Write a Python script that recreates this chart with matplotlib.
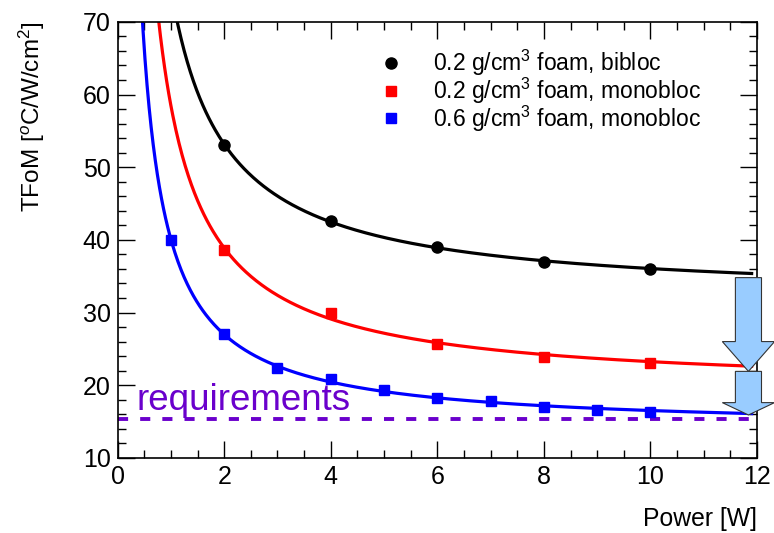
import numpy as np
import matplotlib.pyplot as plt
from matplotlib.ticker import MultipleLocator

plt.rcParams['font.family'] = ['Liberation Sans', 'DejaVu Sans']
plt.rcParams['mathtext.fontset'] = 'custom'
plt.rcParams['mathtext.rm'] = 'Liberation Sans'
plt.rcParams['mathtext.it'] = 'Liberation Sans:italic'

# measured points
p_bib = [2, 4, 6, 8, 10]
t_bib = [53.1, 42.6, 39.0, 37.0, 36.0]
p_mono02 = [2, 4, 6, 8, 10]
t_mono02 = [38.6, 30.0, 25.7, 23.9, 23.1]
p_mono06 = [1, 2, 3, 4, 5, 6, 7, 8, 9, 10]
t_mono06 = [40.0, 27.1, 22.3, 20.8, 19.4, 18.3, 17.8, 17.0, 16.6, 16.3]

requirement = 15.4
arrow_x = 11.84
arrow_tops = [34.8, 21.9]
arrow_tips = [21.9, 15.9]

labels = ['0.2 g/cm$^{3}$ foam, bibloc',
          '0.2 g/cm$^{3}$ foam, monobloc',
          '0.6 g/cm$^{3}$ foam, monobloc']


def fit_inv(x, y):
    # fit y = a + b/x
    x = np.asarray(x, float)
    A = np.vstack([np.ones_like(x), 1.0 / x]).T
    coef = np.linalg.lstsq(A, np.asarray(y, float), rcond=None)[0]
    return coef


fig = plt.figure(figsize=(7.74, 5.33), dpi=100)
ax = fig.add_axes([0.152, 0.141, 0.826, 0.818])

xs = np.linspace(0.3, 11.9, 600)
series = [(p_bib, t_bib, 'black', 'o', 8),
          (p_mono02, t_mono02, '#ff0000', 's', 7.5),
          (p_mono06, t_mono06, '#0000ff', 's', 7.5)]
for (px, py, col, mk, ms), lab in zip(series, labels):
    a, b = fit_inv(px, py)
    ax.plot(xs, a + b / xs, color=col, lw=2.3, zorder=2)
    ax.plot(px, py, linestyle='none', marker=mk, ms=ms, color=col,
            label=lab, zorder=3)

ax.plot([0, 11.85], [requirement, requirement], color='#6a00cc', lw=2.8,
        dashes=(2.6, 3.1), zorder=2)
ax.text(0.35, 16.6, 'requirements', color='#6a00cc', fontsize=26.5,
        ha='left', va='baseline')

for top, tip in zip(arrow_tops, arrow_tips):
    hl = 4.1 if top - tip > 8 else 1.7
    ax.arrow(arrow_x, top, 0, tip - top, width=0.49, head_width=0.98,
             head_length=hl, length_includes_head=True, fc='#99ccff',
             ec='#333333', lw=0.8, clip_on=False, zorder=4)

ax.set_xlim(0, 12)
ax.set_ylim(10, 70)
ax.xaxis.set_major_locator(MultipleLocator(2))
ax.xaxis.set_minor_locator(MultipleLocator(0.5))
ax.yaxis.set_major_locator(MultipleLocator(10))
ax.yaxis.set_minor_locator(MultipleLocator(2))
ax.tick_params(which='both', direction='in', top=True, right=True,
               labelsize=18, width=1)
ax.tick_params(which='major', length=12, pad=5)
ax.tick_params(which='minor', length=6)
for s in ax.spines.values():
    s.set_linewidth(1.2)

ax.set_xlabel('Power [W]', fontsize=17.8, loc='right')
ax.xaxis.set_label_coords(1.0, -0.112)
ax.set_ylabel('TFoM [$^{o}$C/W/cm$^{2}$]', fontsize=17.5, loc='top')
ax.yaxis.set_label_coords(-0.11, 1.0)

ax.legend(loc='upper left', bbox_to_anchor=(0.387, 0.962), frameon=False,
          fontsize=16.5, handletextpad=1.05, labelspacing=-0.1,
          handlelength=1.5, borderaxespad=0)

fig.savefig('out.png', dpi=100)
